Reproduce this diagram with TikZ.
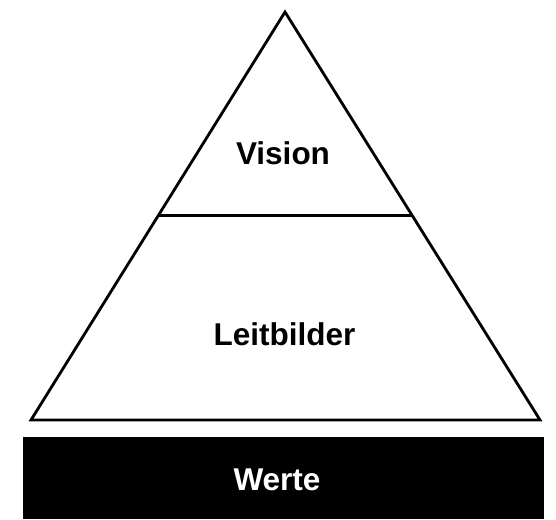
\documentclass[tikz,border=0pt]{standalone}
\usepackage{fontspec}
\setmainfont{Liberation Sans}
\usetikzlibrary{positioning, calc}

\begin{document}
\begin{tikzpicture}[
    x=1pt, y=-1pt,
    linie/.style={line width=2.8pt, line join=miter},
    stufe/.style={font=\bfseries\fontsize{31.5}{36}\selectfont, inner sep=0pt, anchor=base},
    sockel/.style={fill=black, draw=none}
]
\useasboundingbox (0,0) rectangle (556,519);

% Pyramide
\coordinate (spitze) at (285,12);
\coordinate (linksunten) at (31,420);
\coordinate (rechtsunten) at (540,420);
\draw[linie] (spitze) -- (linksunten) -- (rechtsunten) -- cycle;

% Trennlinie
\coordinate (trennlinks) at ($(spitze)!0.498!(linksunten)$);
\coordinate (trennrechts) at ($(spitze)!0.498!(rechtsunten)$);
\draw[linie] (trennlinks) -- (trennrechts);

% Sockel
\fill[sockel] (23,437) rectangle (544,519);

% Texte
\node[stufe] (vision) at (283,164) {Vision};
\node[stufe] (leitbilder) at (284.5,345) {Leitbilder};
\node[stufe, text=white] (werte) at (277,490) {Werte};

\end{tikzpicture}
\end{document}
